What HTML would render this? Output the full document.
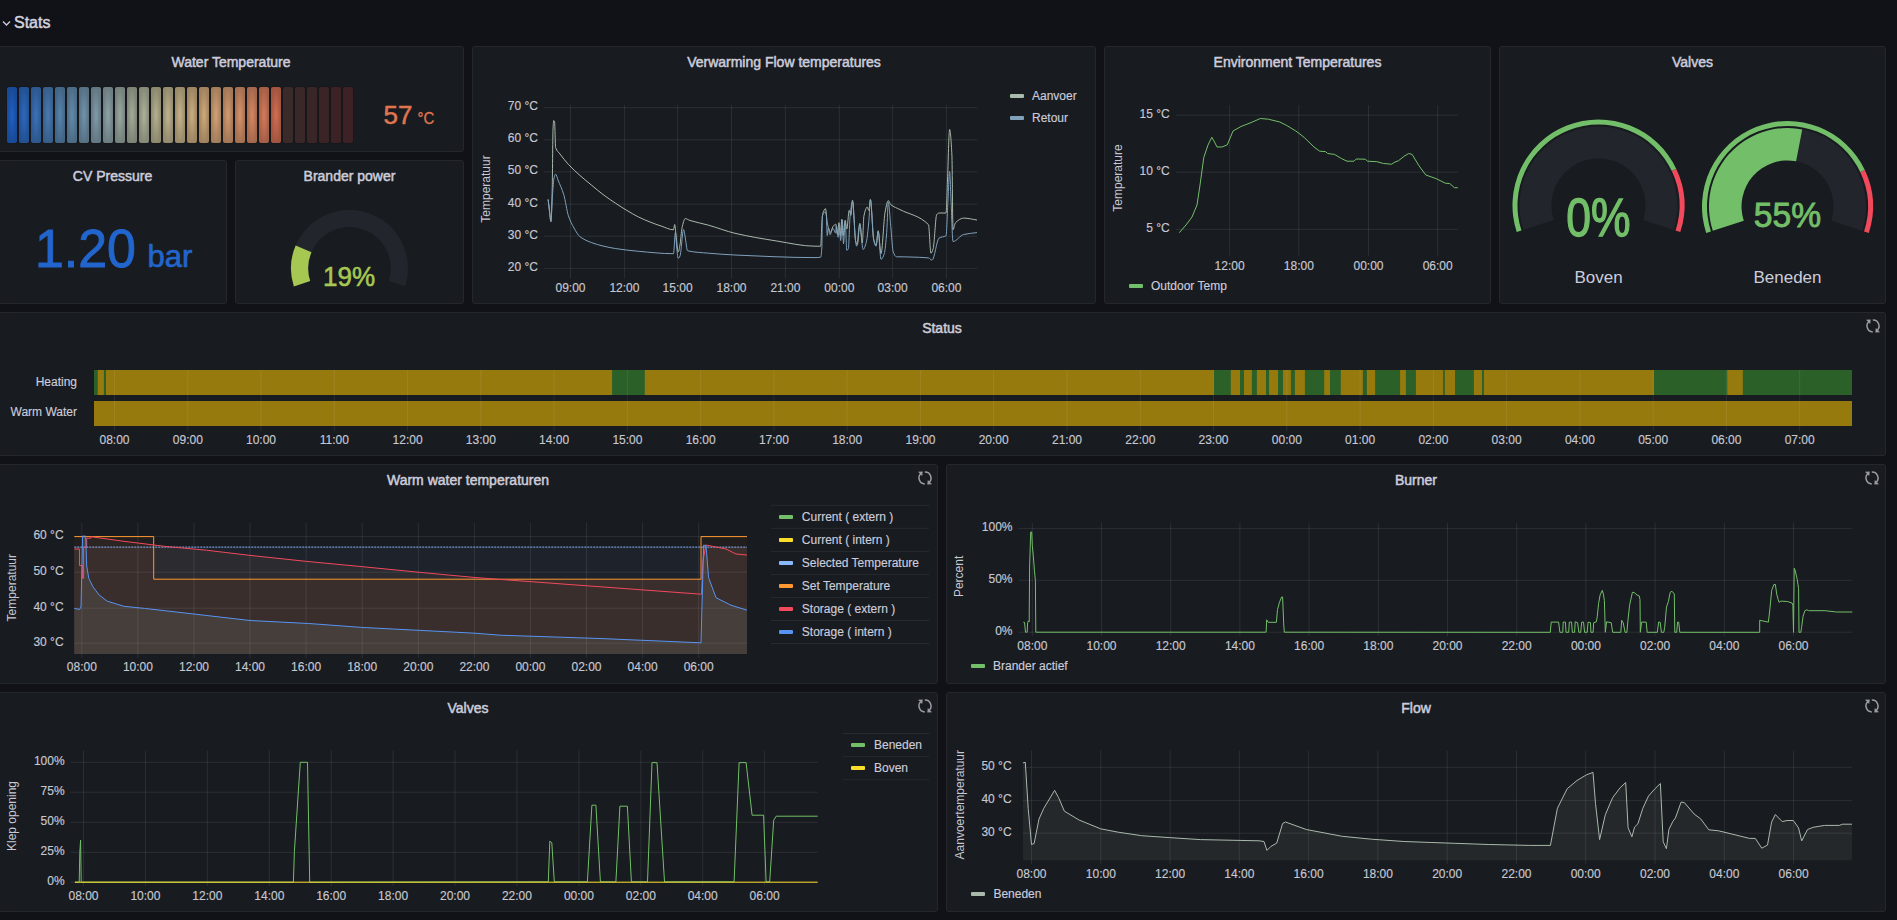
<!DOCTYPE html>
<html><head><meta charset="utf-8"><style>
html,body{margin:0;padding:0;}
body{width:1897px;height:920px;background:#111217;position:relative;overflow:hidden;font-family:"Liberation Sans", sans-serif;}
.p{position:absolute;box-sizing:border-box;background:#181b1f;border:1px solid #25272c;border-radius:3px;}
svg{position:absolute;left:0;top:0;}
svg text{font-family:"Liberation Sans", sans-serif;}
.t{stroke:#ccccdc;stroke-width:0.5px;}
.b{stroke-width:0.2px;}
</style></head><body>
<div class="p" style="left:-2px;top:46px;width:466px;height:106px"></div>
<div class="p" style="left:-2px;top:160px;width:229px;height:144px"></div>
<div class="p" style="left:235px;top:160px;width:229px;height:144px"></div>
<div class="p" style="left:472px;top:46px;width:624px;height:258px"></div>
<div class="p" style="left:1104px;top:46px;width:387px;height:258px"></div>
<div class="p" style="left:1499px;top:46px;width:387px;height:258px"></div>
<div class="p" style="left:-2px;top:312px;width:1888px;height:144px"></div>
<div class="p" style="left:-2px;top:464px;width:940px;height:220px"></div>
<div class="p" style="left:946px;top:464px;width:940px;height:220px"></div>
<div class="p" style="left:-2px;top:692px;width:940px;height:220px"></div>
<div class="p" style="left:946px;top:692px;width:940px;height:220px"></div>
<svg width="1897" height="920" viewBox="0 0 1897 920">
<path d="M3,21.5 L6.5,25 L10,21.5" stroke="#ccccdc" stroke-width="1.3" fill="none"/>
<text x="14" y="28" font-size="16" fill="#d8d9e0" class="t">Stats</text>
<text x="231.0" y="67.0" font-size="14" fill="#ccccdc" text-anchor="middle" class="t">Water Temperature</text>
<rect x="6.5" y="86.5" width="11" height="57" rx="2.5" fill="#15171b"/>
<rect x="7" y="87" width="10" height="56" rx="2" fill="url(#lg0)"/>
<rect x="18.5" y="86.5" width="11" height="57" rx="2.5" fill="#15171b"/>
<rect x="19" y="87" width="10" height="56" rx="2" fill="url(#lg1)"/>
<rect x="30.5" y="86.5" width="11" height="57" rx="2.5" fill="#15171b"/>
<rect x="31" y="87" width="10" height="56" rx="2" fill="url(#lg2)"/>
<rect x="42.5" y="86.5" width="11" height="57" rx="2.5" fill="#15171b"/>
<rect x="43" y="87" width="10" height="56" rx="2" fill="url(#lg3)"/>
<rect x="54.5" y="86.5" width="11" height="57" rx="2.5" fill="#15171b"/>
<rect x="55" y="87" width="10" height="56" rx="2" fill="url(#lg4)"/>
<rect x="66.5" y="86.5" width="11" height="57" rx="2.5" fill="#15171b"/>
<rect x="67" y="87" width="10" height="56" rx="2" fill="url(#lg5)"/>
<rect x="78.5" y="86.5" width="11" height="57" rx="2.5" fill="#15171b"/>
<rect x="79" y="87" width="10" height="56" rx="2" fill="url(#lg6)"/>
<rect x="90.5" y="86.5" width="11" height="57" rx="2.5" fill="#15171b"/>
<rect x="91" y="87" width="10" height="56" rx="2" fill="url(#lg7)"/>
<rect x="102.5" y="86.5" width="11" height="57" rx="2.5" fill="#15171b"/>
<rect x="103" y="87" width="10" height="56" rx="2" fill="url(#lg8)"/>
<rect x="114.5" y="86.5" width="11" height="57" rx="2.5" fill="#15171b"/>
<rect x="115" y="87" width="10" height="56" rx="2" fill="url(#lg9)"/>
<rect x="126.5" y="86.5" width="11" height="57" rx="2.5" fill="#15171b"/>
<rect x="127" y="87" width="10" height="56" rx="2" fill="url(#lg10)"/>
<rect x="138.5" y="86.5" width="11" height="57" rx="2.5" fill="#15171b"/>
<rect x="139" y="87" width="10" height="56" rx="2" fill="url(#lg11)"/>
<rect x="150.5" y="86.5" width="11" height="57" rx="2.5" fill="#15171b"/>
<rect x="151" y="87" width="10" height="56" rx="2" fill="url(#lg12)"/>
<rect x="162.5" y="86.5" width="11" height="57" rx="2.5" fill="#15171b"/>
<rect x="163" y="87" width="10" height="56" rx="2" fill="url(#lg13)"/>
<rect x="174.5" y="86.5" width="11" height="57" rx="2.5" fill="#15171b"/>
<rect x="175" y="87" width="10" height="56" rx="2" fill="url(#lg14)"/>
<rect x="186.5" y="86.5" width="11" height="57" rx="2.5" fill="#15171b"/>
<rect x="187" y="87" width="10" height="56" rx="2" fill="url(#lg15)"/>
<rect x="198.5" y="86.5" width="11" height="57" rx="2.5" fill="#15171b"/>
<rect x="199" y="87" width="10" height="56" rx="2" fill="url(#lg16)"/>
<rect x="210.5" y="86.5" width="11" height="57" rx="2.5" fill="#15171b"/>
<rect x="211" y="87" width="10" height="56" rx="2" fill="url(#lg17)"/>
<rect x="222.5" y="86.5" width="11" height="57" rx="2.5" fill="#15171b"/>
<rect x="223" y="87" width="10" height="56" rx="2" fill="url(#lg18)"/>
<rect x="234.5" y="86.5" width="11" height="57" rx="2.5" fill="#15171b"/>
<rect x="235" y="87" width="10" height="56" rx="2" fill="url(#lg19)"/>
<rect x="246.5" y="86.5" width="11" height="57" rx="2.5" fill="#15171b"/>
<rect x="247" y="87" width="10" height="56" rx="2" fill="url(#lg20)"/>
<rect x="258.5" y="86.5" width="11" height="57" rx="2.5" fill="#15171b"/>
<rect x="259" y="87" width="10" height="56" rx="2" fill="url(#lg21)"/>
<rect x="270.5" y="86.5" width="11" height="57" rx="2.5" fill="#15171b"/>
<rect x="271" y="87" width="10" height="56" rx="2" fill="url(#lg22)"/>
<rect x="282.5" y="86.5" width="11" height="57" rx="2.5" fill="#15171b"/>
<rect x="283" y="87" width="10" height="56" rx="2" fill="rgb(58, 42, 42)"/>
<rect x="294.5" y="86.5" width="11" height="57" rx="2.5" fill="#15171b"/>
<rect x="295" y="87" width="10" height="56" rx="2" fill="rgb(58, 40, 40)"/>
<rect x="306.5" y="86.5" width="11" height="57" rx="2.5" fill="#15171b"/>
<rect x="307" y="87" width="10" height="56" rx="2" fill="rgb(59, 38, 39)"/>
<rect x="318.5" y="86.5" width="11" height="57" rx="2.5" fill="#15171b"/>
<rect x="319" y="87" width="10" height="56" rx="2" fill="rgb(59, 36, 38)"/>
<rect x="330.5" y="86.5" width="11" height="57" rx="2.5" fill="#15171b"/>
<rect x="331" y="87" width="10" height="56" rx="2" fill="rgb(60, 34, 37)"/>
<rect x="342.5" y="86.5" width="11" height="57" rx="2.5" fill="#15171b"/>
<rect x="343" y="87" width="10" height="56" rx="2" fill="rgb(61, 33, 36)"/>
<defs><radialGradient id="lg0" cx="50%" cy="50%" r="50%" gradientTransform="translate(0.0,0) scale(1,1)"><stop offset="0" stop-color="rgb(31, 96, 196)"/><stop offset="1" stop-color="rgb(24, 74, 152)"/></radialGradient><radialGradient id="lg1" cx="50%" cy="50%" r="50%" gradientTransform="translate(0.0,0) scale(1,1)"><stop offset="0" stop-color="rgb(44, 105, 190)"/><stop offset="1" stop-color="rgb(34, 81, 148)"/></radialGradient><radialGradient id="lg2" cx="50%" cy="50%" r="50%" gradientTransform="translate(0.0,0) scale(1,1)"><stop offset="0" stop-color="rgb(58, 114, 185)"/><stop offset="1" stop-color="rgb(45, 88, 144)"/></radialGradient><radialGradient id="lg3" cx="50%" cy="50%" r="50%" gradientTransform="translate(0.0,0) scale(1,1)"><stop offset="0" stop-color="rgb(72, 123, 179)"/><stop offset="1" stop-color="rgb(56, 95, 139)"/></radialGradient><radialGradient id="lg4" cx="50%" cy="50%" r="50%" gradientTransform="translate(0.0,0) scale(1,1)"><stop offset="0" stop-color="rgb(86, 132, 174)"/><stop offset="1" stop-color="rgb(67, 102, 135)"/></radialGradient><radialGradient id="lg5" cx="50%" cy="50%" r="50%" gradientTransform="translate(0.0,0) scale(1,1)"><stop offset="0" stop-color="rgb(99, 139, 172)"/><stop offset="1" stop-color="rgb(77, 108, 134)"/></radialGradient><radialGradient id="lg6" cx="50%" cy="50%" r="50%" gradientTransform="translate(0.0,0) scale(1,1)"><stop offset="0" stop-color="rgb(113, 147, 171)"/><stop offset="1" stop-color="rgb(88, 114, 133)"/></radialGradient><radialGradient id="lg7" cx="50%" cy="50%" r="50%" gradientTransform="translate(0.0,0) scale(1,1)"><stop offset="0" stop-color="rgb(127, 155, 169)"/><stop offset="1" stop-color="rgb(99, 120, 131)"/></radialGradient><radialGradient id="lg8" cx="50%" cy="50%" r="50%" gradientTransform="translate(0.0,0) scale(1,1)"><stop offset="0" stop-color="rgb(141, 163, 168)"/><stop offset="1" stop-color="rgb(109, 127, 131)"/></radialGradient><radialGradient id="lg9" cx="50%" cy="50%" r="50%" gradientTransform="translate(0.0,0) scale(1,1)"><stop offset="0" stop-color="rgb(152, 168, 160)"/><stop offset="1" stop-color="rgb(118, 131, 124)"/></radialGradient><radialGradient id="lg10" cx="50%" cy="50%" r="50%" gradientTransform="translate(0.0,0) scale(1,1)"><stop offset="0" stop-color="rgb(163, 171, 152)"/><stop offset="1" stop-color="rgb(127, 133, 118)"/></radialGradient><radialGradient id="lg11" cx="50%" cy="50%" r="50%" gradientTransform="translate(0.0,0) scale(1,1)"><stop offset="0" stop-color="rgb(173, 178, 154)"/><stop offset="1" stop-color="rgb(134, 138, 120)"/></radialGradient><radialGradient id="lg12" cx="50%" cy="50%" r="50%" gradientTransform="translate(0.0,0) scale(1,1)"><stop offset="0" stop-color="rgb(181, 176, 143)"/><stop offset="1" stop-color="rgb(141, 137, 111)"/></radialGradient><radialGradient id="lg13" cx="50%" cy="50%" r="50%" gradientTransform="translate(0.0,0) scale(1,1)"><stop offset="0" stop-color="rgb(192, 180, 143)"/><stop offset="1" stop-color="rgb(149, 140, 111)"/></radialGradient><radialGradient id="lg14" cx="50%" cy="50%" r="50%" gradientTransform="translate(0.0,0) scale(1,1)"><stop offset="0" stop-color="rgb(198, 179, 138)"/><stop offset="1" stop-color="rgb(154, 139, 107)"/></radialGradient><radialGradient id="lg15" cx="50%" cy="50%" r="50%" gradientTransform="translate(0.0,0) scale(1,1)"><stop offset="0" stop-color="rgb(203, 173, 128)"/><stop offset="1" stop-color="rgb(158, 134, 99)"/></radialGradient><radialGradient id="lg16" cx="50%" cy="50%" r="50%" gradientTransform="translate(0.0,0) scale(1,1)"><stop offset="0" stop-color="rgb(207, 169, 123)"/><stop offset="1" stop-color="rgb(161, 131, 95)"/></radialGradient><radialGradient id="lg17" cx="50%" cy="50%" r="50%" gradientTransform="translate(0.0,0) scale(1,1)"><stop offset="0" stop-color="rgb(211, 162, 118)"/><stop offset="1" stop-color="rgb(164, 126, 92)"/></radialGradient><radialGradient id="lg18" cx="50%" cy="50%" r="50%" gradientTransform="translate(0.0,0) scale(1,1)"><stop offset="0" stop-color="rgb(212, 154, 112)"/><stop offset="1" stop-color="rgb(165, 120, 87)"/></radialGradient><radialGradient id="lg19" cx="50%" cy="50%" r="50%" gradientTransform="translate(0.0,0) scale(1,1)"><stop offset="0" stop-color="rgb(214, 146, 106)"/><stop offset="1" stop-color="rgb(166, 113, 82)"/></radialGradient><radialGradient id="lg20" cx="50%" cy="50%" r="50%" gradientTransform="translate(0.0,0) scale(1,1)"><stop offset="0" stop-color="rgb(214, 135, 99)"/><stop offset="1" stop-color="rgb(166, 105, 77)"/></radialGradient><radialGradient id="lg21" cx="50%" cy="50%" r="50%" gradientTransform="translate(0.0,0) scale(1,1)"><stop offset="0" stop-color="rgb(213, 123, 92)"/><stop offset="1" stop-color="rgb(166, 95, 71)"/></radialGradient><radialGradient id="lg22" cx="50%" cy="50%" r="50%" gradientTransform="translate(0.0,0) scale(1,1)"><stop offset="0" stop-color="rgb(210, 110, 82)"/><stop offset="1" stop-color="rgb(163, 85, 63)"/></radialGradient></defs>
<text x="383.5" y="124" font-size="26" fill="#e0764f" stroke="#e0764f" stroke-width="0.5">57</text>
<text x="417.5" y="124" font-size="16.5" fill="#e0764f" stroke="#e0764f" stroke-width="0.3" transform="translate(417.5 124) scale(0.9 1) translate(-417.5 -124)">°C</text>
<text x="112.5" y="181.0" font-size="14" fill="#ccccdc" text-anchor="middle" class="t">CV Pressure</text>
<text x="35" y="267" font-size="54" fill="#2265cc" stroke="#2265cc" stroke-width="1.0" transform="translate(35 267) scale(0.96 1) translate(-35 -267)">1.20</text>
<text x="147.5" y="267" font-size="31" fill="#2265cc" stroke="#2265cc" stroke-width="0.7">bar</text>
<text x="349.5" y="181.0" font-size="14" fill="#ccccdc" text-anchor="middle" class="t">Brander power</text>
<path d="M293.86,286.38 A58.5,58.5 0 1 1 405.14,286.38 L388.78,281.06 A41.3,41.3 0 1 0 310.22,281.06 Z" fill="#22252b"/>
<path d="M293.86,286.38 A58.5,58.5 0 0 1 295.67,245.40 L311.49,252.14 A41.3,41.3 0 0 0 310.22,281.06 Z" fill="#a6c853"/>
<text x="349" y="285.7" font-size="28" fill="#a6c853" stroke="#a6c853" stroke-width="0.6" text-anchor="middle" transform="translate(349 285.7) scale(0.93 1) translate(-349 -285.7)">19%</text>
<text x="784.0" y="67.0" font-size="14" fill="#ccccdc" text-anchor="middle" class="t">Verwarming Flow temperatures</text>
<line x1="544.0" y1="107.7" x2="977.0" y2="107.7" stroke="rgba(220,225,240,0.10)" stroke-width="1"/>
<text x="538.0" y="110.2" font-size="12" fill="#c7c8d2" stroke="#c7c8d2" stroke-width="0.15" text-anchor="end" font-weight="normal" >70 °C</text>
<line x1="544.0" y1="139.8" x2="977.0" y2="139.8" stroke="rgba(220,225,240,0.10)" stroke-width="1"/>
<text x="538.0" y="142.3" font-size="12" fill="#c7c8d2" stroke="#c7c8d2" stroke-width="0.15" text-anchor="end" font-weight="normal" >60 °C</text>
<line x1="544.0" y1="171.9" x2="977.0" y2="171.9" stroke="rgba(220,225,240,0.10)" stroke-width="1"/>
<text x="538.0" y="174.4" font-size="12" fill="#c7c8d2" stroke="#c7c8d2" stroke-width="0.15" text-anchor="end" font-weight="normal" >50 °C</text>
<line x1="544.0" y1="204.1" x2="977.0" y2="204.1" stroke="rgba(220,225,240,0.10)" stroke-width="1"/>
<text x="538.0" y="206.6" font-size="12" fill="#c7c8d2" stroke="#c7c8d2" stroke-width="0.15" text-anchor="end" font-weight="normal" >40 °C</text>
<line x1="544.0" y1="236.2" x2="977.0" y2="236.2" stroke="rgba(220,225,240,0.10)" stroke-width="1"/>
<text x="538.0" y="238.7" font-size="12" fill="#c7c8d2" stroke="#c7c8d2" stroke-width="0.15" text-anchor="end" font-weight="normal" >30 °C</text>
<line x1="544.0" y1="268.4" x2="977.0" y2="268.4" stroke="rgba(220,225,240,0.10)" stroke-width="1"/>
<text x="538.0" y="270.9" font-size="12" fill="#c7c8d2" stroke="#c7c8d2" stroke-width="0.15" text-anchor="end" font-weight="normal" >20 °C</text>
<line x1="570.5" y1="105.0" x2="570.5" y2="278.5" stroke="rgba(220,225,240,0.10)" stroke-width="1"/>
<text x="570.5" y="291.7" font-size="12" fill="#c7c8d2" stroke="#c7c8d2" stroke-width="0.15" text-anchor="middle" font-weight="normal" >09:00</text>
<line x1="624.4" y1="105.0" x2="624.4" y2="278.5" stroke="rgba(220,225,240,0.10)" stroke-width="1"/>
<text x="624.4" y="291.7" font-size="12" fill="#c7c8d2" stroke="#c7c8d2" stroke-width="0.15" text-anchor="middle" font-weight="normal" >12:00</text>
<line x1="677.6" y1="105.0" x2="677.6" y2="278.5" stroke="rgba(220,225,240,0.10)" stroke-width="1"/>
<text x="677.6" y="291.7" font-size="12" fill="#c7c8d2" stroke="#c7c8d2" stroke-width="0.15" text-anchor="middle" font-weight="normal" >15:00</text>
<line x1="731.5" y1="105.0" x2="731.5" y2="278.5" stroke="rgba(220,225,240,0.10)" stroke-width="1"/>
<text x="731.5" y="291.7" font-size="12" fill="#c7c8d2" stroke="#c7c8d2" stroke-width="0.15" text-anchor="middle" font-weight="normal" >18:00</text>
<line x1="785.4" y1="105.0" x2="785.4" y2="278.5" stroke="rgba(220,225,240,0.10)" stroke-width="1"/>
<text x="785.4" y="291.7" font-size="12" fill="#c7c8d2" stroke="#c7c8d2" stroke-width="0.15" text-anchor="middle" font-weight="normal" >21:00</text>
<line x1="839.3" y1="105.0" x2="839.3" y2="278.5" stroke="rgba(220,225,240,0.10)" stroke-width="1"/>
<text x="839.3" y="291.7" font-size="12" fill="#c7c8d2" stroke="#c7c8d2" stroke-width="0.15" text-anchor="middle" font-weight="normal" >00:00</text>
<line x1="892.6" y1="105.0" x2="892.6" y2="278.5" stroke="rgba(220,225,240,0.10)" stroke-width="1"/>
<text x="892.6" y="291.7" font-size="12" fill="#c7c8d2" stroke="#c7c8d2" stroke-width="0.15" text-anchor="middle" font-weight="normal" >03:00</text>
<line x1="946.4" y1="105.0" x2="946.4" y2="278.5" stroke="rgba(220,225,240,0.10)" stroke-width="1"/>
<text x="946.4" y="291.7" font-size="12" fill="#c7c8d2" stroke="#c7c8d2" stroke-width="0.15" text-anchor="middle" font-weight="normal" >06:00</text>
<text x="486.0" y="189.0" font-size="12" fill="#c7c8d2" text-anchor="middle" transform="rotate(-90 486.0 189.0)" dy="4">Temperatuur</text>
<path d="M548.10,199.50 C548.57,203.00 549.03,206.33 549.50,210.00 C549.97,213.67 550.43,221.60 550.90,221.60 C551.33,221.60 551.77,205.91 552.20,190.00 C552.47,180.21 552.73,136.13 553.00,130.00 C553.23,124.64 553.47,120.50 553.70,120.50 C554.00,120.50 554.30,121.06 554.60,122.00 C554.93,123.04 555.27,146.68 555.60,147.60 C557.07,151.64 558.53,152.04 560.00,154.00 C562.80,157.75 565.60,161.38 568.40,164.40 C572.27,168.57 576.13,172.04 580.00,175.50 C583.93,179.02 587.87,182.15 591.80,185.40 C595.53,188.48 599.27,191.70 603.00,194.50 C607.07,197.55 611.13,200.30 615.20,203.00 C619.13,205.61 623.07,208.15 627.00,210.50 C630.83,212.79 634.67,215.12 638.50,217.00 C642.33,218.88 646.17,220.49 650.00,222.00 C653.97,223.57 657.93,225.00 661.90,226.30 C665.77,227.57 669.63,229.80 673.50,229.80 C673.90,229.80 674.30,224.50 674.70,224.50 C675.13,224.50 675.57,231.58 676.00,235.00 C676.73,240.79 677.47,252.00 678.20,252.00 C678.80,252.00 679.40,248.20 680.00,245.00 C680.67,241.44 681.33,230.91 682.00,228.00 C683.07,223.34 684.13,218.60 685.20,218.60 C686.80,218.60 688.40,220.01 690.00,220.50 C696.20,222.41 702.40,223.48 708.60,225.20 C717.40,227.64 726.20,231.27 735.00,233.30 C748.90,236.50 762.80,238.82 776.70,241.00 C789.47,243.00 802.23,246.20 815.00,246.20 C816.90,246.20 818.80,246.20 820.70,246.20 C821.10,246.20 821.50,228.33 821.90,222.60 C822.17,218.78 822.43,214.38 822.70,213.60 C823.67,210.76 824.63,208.70 825.60,208.70 C826.13,208.70 826.67,219.64 827.20,222.60 C827.60,224.82 828.00,226.31 828.40,227.50 C829.10,229.58 829.80,232.40 830.50,232.40 C831.30,232.40 832.10,227.71 832.90,226.70 C833.87,225.48 834.83,224.20 835.80,224.20 C836.33,224.20 836.87,234.00 837.40,234.00 C837.93,234.00 838.47,222.60 839.00,222.60 C839.43,222.60 839.87,235.60 840.30,235.60 C840.83,235.60 841.37,219.30 841.90,219.30 C842.30,219.30 842.70,235.60 843.10,235.60 C843.80,235.60 844.50,220.20 845.20,220.20 C845.73,220.20 846.27,229.10 846.80,229.10 C847.60,229.10 848.40,210.40 849.20,210.40 C849.77,210.40 850.33,215.30 850.90,215.30 C851.43,215.30 851.97,200.20 852.50,200.20 C853.57,200.20 854.63,237.70 855.70,241.30 C856.27,243.21 856.83,244.60 857.40,244.60 C858.20,244.60 859.00,223.40 859.80,223.40 C860.63,223.40 861.47,243.00 862.30,243.00 C862.83,243.00 863.37,218.60 863.90,216.10 C865.00,210.94 866.10,207.10 867.20,207.10 C867.73,207.10 868.27,210.40 868.80,210.40 C869.33,210.40 869.87,199.40 870.40,199.40 C871.50,199.40 872.60,234.04 873.70,238.90 C874.50,242.43 875.30,245.40 876.10,245.40 C876.80,245.40 877.50,230.70 878.20,230.70 C879.13,230.70 880.07,253.60 881.00,253.60 C882.37,253.60 883.73,219.21 885.10,212.00 C886.17,206.38 887.23,200.60 888.30,200.60 C889.13,200.60 889.97,204.03 890.80,204.70 C893.87,207.17 896.93,207.97 900.00,209.60 C909.50,214.65 919.00,215.06 928.50,224.70 C929.30,225.51 930.10,253.20 930.90,253.20 C931.67,253.20 932.43,251.09 933.20,248.50 C934.37,244.56 935.53,216.06 936.70,214.60 C937.50,213.60 938.30,213.00 939.10,213.00 C941.40,213.00 943.70,213.00 946.00,213.00 C946.50,213.00 947.00,191.50 947.50,180.00 C948.20,163.90 948.90,129.40 949.60,129.40 C950.37,129.40 951.13,140.39 951.90,155.10 C952.27,162.14 952.63,229.80 953.00,229.80 C953.80,229.80 954.60,223.57 955.40,222.80 C958.13,220.18 960.87,218.10 963.60,218.10 C968.07,218.10 972.53,219.37 977.00,220.00" stroke="#a9b9ab" stroke-width="1" fill="none" stroke-linejoin="round" />
<path d="M548.10,199.50 C548.57,203.67 549.03,208.38 549.50,212.00 C549.97,215.62 550.43,221.60 550.90,221.60 C551.43,221.60 551.97,202.19 552.50,195.00 C553.00,188.26 553.50,179.96 554.00,178.00 C554.53,175.91 555.07,174.20 555.60,174.20 C556.40,174.20 557.20,178.01 558.00,180.00 C559.93,184.80 561.87,188.47 563.80,194.80 C565.33,199.82 566.87,211.28 568.40,215.80 C570.27,221.31 572.13,224.76 574.00,228.00 C576.03,231.53 578.07,235.28 580.10,236.80 C584.00,239.71 587.90,241.25 591.80,242.70 C595.53,244.09 599.27,245.10 603.00,246.00 C607.07,246.98 611.13,247.88 615.20,248.50 C622.97,249.68 630.73,250.62 638.50,251.30 C650.17,252.32 661.83,253.70 673.50,253.70 C674.13,253.70 674.77,232.20 675.40,232.20 C675.77,232.20 676.13,241.57 676.50,245.00 C677.07,250.30 677.63,258.30 678.20,258.30 C678.80,258.30 679.40,257.31 680.00,256.00 C681.20,253.39 682.40,229.40 683.60,229.40 C684.07,229.40 684.53,233.59 685.00,236.00 C685.87,240.47 686.73,250.61 687.60,250.80 C694.60,252.37 701.60,252.60 708.60,253.20 C717.40,253.95 726.20,254.61 735.00,255.00 C761.67,256.17 788.33,257.60 815.00,257.60 C816.90,257.60 818.80,257.46 820.70,257.20 C821.10,257.14 821.50,253.11 821.90,247.00 C822.03,244.96 822.17,217.67 822.30,216.90 C822.57,215.36 822.83,215.00 823.10,214.50 C823.80,213.18 824.50,211.60 825.20,211.60 C825.60,211.60 826.00,213.50 826.40,216.10 C826.67,217.83 826.93,235.60 827.20,235.60 C827.60,235.60 828.00,228.30 828.40,228.30 C828.97,228.30 829.53,234.80 830.10,234.80 C831.03,234.80 831.97,228.30 832.90,228.30 C833.87,228.30 834.83,233.20 835.80,233.20 C835.93,233.20 836.07,225.90 836.20,225.90 C836.87,225.90 837.53,237.30 838.20,237.30 C838.60,237.30 839.00,224.20 839.40,224.20 C839.83,224.20 840.27,240.50 840.70,240.50 C841.23,240.50 841.77,220.20 842.30,220.20 C842.70,220.20 843.10,243.80 843.50,243.80 C844.07,243.80 844.63,221.00 845.20,221.00 C845.73,221.00 846.27,250.30 846.80,250.30 C847.33,250.30 847.87,249.71 848.40,248.70 C848.93,247.69 849.47,222.90 850.00,217.70 C850.83,209.57 851.67,201.40 852.50,201.40 C853.57,201.40 854.63,235.17 855.70,242.20 C856.00,244.18 856.30,246.20 856.60,246.20 C857.67,246.20 858.73,224.20 859.80,224.20 C860.90,224.20 862.00,249.50 863.10,249.50 C864.17,249.50 865.23,246.00 866.30,242.20 C867.13,239.23 867.97,230.33 868.80,221.80 C869.33,216.34 869.87,199.80 870.40,199.80 C871.50,199.80 872.60,236.12 873.70,240.50 C874.50,243.69 875.30,246.20 876.10,246.20 C876.80,246.20 877.50,231.60 878.20,231.60 C879.13,231.60 880.07,259.30 881.00,259.30 C882.10,259.30 883.20,256.78 884.30,253.60 C885.10,251.29 885.90,242.03 886.70,232.40 C887.23,225.98 887.77,202.20 888.30,202.20 C889.13,202.20 889.97,218.25 890.80,226.70 C891.60,234.81 892.40,249.82 893.20,251.90 C894.30,254.76 895.40,256.80 896.50,256.80 C897.67,256.80 898.83,256.80 900.00,256.80 C903.33,256.80 906.67,256.91 910.00,257.00 C916.17,257.17 922.33,257.34 928.50,257.90 C929.67,258.01 930.83,260.20 932.00,260.20 C934.37,260.20 936.73,239.43 939.10,238.00 C941.40,236.61 943.70,237.21 946.00,235.70 C946.67,235.26 947.33,211.91 948.00,200.00 C948.53,190.47 949.07,171.40 949.60,171.40 C950.07,171.40 950.53,190.39 951.00,200.00 C951.67,213.73 952.33,241.50 953.00,241.50 C956.53,241.50 960.07,235.32 963.60,234.50 C968.07,233.46 972.53,233.23 977.00,232.60" stroke="#7fa1bc" stroke-width="1" fill="none" stroke-linejoin="round" />
<rect x="1010" y="94" width="14" height="4" rx="1" fill="#a9b9ab"/>
<rect x="1010" y="116" width="14" height="4" rx="1" fill="#7fa1bc"/>
<text x="1032.0" y="100.0" font-size="12" fill="#ccccdc" stroke="#ccccdc" stroke-width="0.15" text-anchor="start" font-weight="normal" >Aanvoer</text>
<text x="1032.0" y="122.0" font-size="12" fill="#ccccdc" stroke="#ccccdc" stroke-width="0.15" text-anchor="start" font-weight="normal" >Retour</text>
<text x="1297.5" y="67.0" font-size="14" fill="#ccccdc" text-anchor="middle" class="t">Environment Temperatures</text>
<line x1="1176.0" y1="115.1" x2="1458.0" y2="115.1" stroke="rgba(220,225,240,0.10)" stroke-width="1"/>
<text x="1169.7" y="117.9" font-size="12" fill="#c7c8d2" stroke="#c7c8d2" stroke-width="0.15" text-anchor="end" font-weight="normal" >15 °C</text>
<line x1="1176.0" y1="172.2" x2="1458.0" y2="172.2" stroke="rgba(220,225,240,0.10)" stroke-width="1"/>
<text x="1169.7" y="175.0" font-size="12" fill="#c7c8d2" stroke="#c7c8d2" stroke-width="0.15" text-anchor="end" font-weight="normal" >10 °C</text>
<line x1="1176.0" y1="229.3" x2="1458.0" y2="229.3" stroke="rgba(220,225,240,0.10)" stroke-width="1"/>
<text x="1169.7" y="232.1" font-size="12" fill="#c7c8d2" stroke="#c7c8d2" stroke-width="0.15" text-anchor="end" font-weight="normal" >5 °C</text>
<line x1="1229.6" y1="105.0" x2="1229.6" y2="255.5" stroke="rgba(220,225,240,0.10)" stroke-width="1"/>
<text x="1229.6" y="270.0" font-size="12" fill="#c7c8d2" stroke="#c7c8d2" stroke-width="0.15" text-anchor="middle" font-weight="normal" >12:00</text>
<line x1="1298.8" y1="105.0" x2="1298.8" y2="255.5" stroke="rgba(220,225,240,0.10)" stroke-width="1"/>
<text x="1298.8" y="270.0" font-size="12" fill="#c7c8d2" stroke="#c7c8d2" stroke-width="0.15" text-anchor="middle" font-weight="normal" >18:00</text>
<line x1="1368.5" y1="105.0" x2="1368.5" y2="255.5" stroke="rgba(220,225,240,0.10)" stroke-width="1"/>
<text x="1368.5" y="270.0" font-size="12" fill="#c7c8d2" stroke="#c7c8d2" stroke-width="0.15" text-anchor="middle" font-weight="normal" >00:00</text>
<line x1="1437.7" y1="105.0" x2="1437.7" y2="255.5" stroke="rgba(220,225,240,0.10)" stroke-width="1"/>
<text x="1437.7" y="270.0" font-size="12" fill="#c7c8d2" stroke="#c7c8d2" stroke-width="0.15" text-anchor="middle" font-weight="normal" >06:00</text>
<text x="1117.5" y="178.0" font-size="12" fill="#c7c8d2" text-anchor="middle" transform="rotate(-90 1117.5 178.0)" dy="4">Temperature</text>
<path d="M1179.3,232.7 L1186.0,225.0 L1192.0,217.0 L1197.0,205.0 L1200.0,185.0 L1203.8,157.4 L1208.0,145.0 L1211.8,137.3 L1214.0,141.0 L1217.0,147.0 L1222.0,147.0 L1227.3,144.8 L1233.0,131.0 L1241.0,126.5 L1250.0,123.0 L1260.4,118.5 L1268.4,119.2 L1279.8,122.0 L1286.6,125.4 L1295.8,131.0 L1299.1,133.4 L1304.8,138.0 L1314.0,147.0 L1319.7,151.2 L1325.4,151.6 L1327.7,153.5 L1334.5,154.4 L1341.4,158.5 L1347.0,161.2 L1354.0,161.2 L1356.2,159.0 L1365.3,159.2 L1367.6,161.2 L1376.8,161.7 L1383.6,163.5 L1391.6,164.2 L1395.0,162.0 L1398.4,160.8 L1404.2,156.2 L1408.7,153.5 L1412.1,154.4 L1419.0,165.8 L1425.8,175.0 L1436.1,178.6 L1445.3,183.2 L1449.8,183.6 L1454.4,187.7 L1457.8,187.7" stroke="#73bf69" stroke-width="1" fill="none" stroke-linejoin="round" />
<rect x="1129" y="284" width="14" height="4" rx="1" fill="#73bf69"/>
<text x="1151.0" y="290.0" font-size="12" fill="#ccccdc" stroke="#ccccdc" stroke-width="0.15" text-anchor="start" font-weight="normal" >Outdoor Temp</text>
<text x="1692.5" y="67.0" font-size="14" fill="#ccccdc" text-anchor="middle" class="t">Valves</text>
<path d="M1516.71,232.08 A86,86 0 0 1 1676.32,168.88 L1671.79,171.01 A81,81 0 0 0 1521.46,230.53 Z" fill="#73bf69"/>
<path d="M1676.32,168.88 A86,86 0 0 1 1680.29,232.08 L1675.54,230.53 A81,81 0 0 0 1671.79,171.01 Z" fill="#f2495c"/>
<path d="M1523.37,229.91 A79,79 0 1 1 1673.63,229.91 L1643.20,220.02 A47,47 0 1 0 1553.80,220.02 Z" fill="#22252b"/>
<text x="1598.5" y="236" font-size="53" fill="#73bf69" stroke="#73bf69" stroke-width="1.32" text-anchor="middle" transform="translate(1598.5 236) scale(0.84 1) translate(-1598.5 -236)">0%</text>
<text x="1598.5" y="282.6" font-size="17" fill="#ccccdc" text-anchor="middle">Boven</text>
<path d="M1706.18,232.92 A85.5,85.5 0 0 1 1864.86,170.10 L1860.34,172.22 A80.5,80.5 0 0 0 1710.94,231.38 Z" fill="#73bf69"/>
<path d="M1864.86,170.10 A85.5,85.5 0 0 1 1868.82,232.92 L1864.06,231.38 A80.5,80.5 0 0 0 1860.34,172.22 Z" fill="#f2495c"/>
<path d="M1712.84,230.76 A78.5,78.5 0 1 1 1862.16,230.76 L1831.25,220.71 A46,46 0 1 0 1743.75,220.71 Z" fill="#22252b"/>
<path d="M1712.84,230.76 A78.5,78.5 0 0 1 1802.21,129.39 L1796.12,161.31 A46,46 0 0 0 1743.75,220.71 Z" fill="#73bf69"/>
<text x="1787.5" y="227" font-size="35" fill="#73bf69" stroke="#73bf69" stroke-width="0.88" text-anchor="middle" transform="translate(1787.5 227) scale(0.96 1) translate(-1787.5 -227)">55%</text>
<text x="1787.5" y="282.6" font-size="17" fill="#ccccdc" text-anchor="middle">Beneden</text>
<text x="942.0" y="333.0" font-size="14" fill="#ccccdc" text-anchor="middle" class="t">Status</text>
<path d="M1869.31,321.27 A6.0,6.0 0 0 0 1872.79,332.00" stroke="#9a9ba5" stroke-width="1.5" fill="none"/>
<path d="M1872.79,320.00 A6.0,6.0 0 0 1 1876.69,330.73" stroke="#9a9ba5" stroke-width="1.5" fill="none"/>
<path d="M1866.00,319.70 L1870.70,319.40 L1870.20,324.00 Z" fill="#9a9ba5"/>
<path d="M1880.00,332.30 L1875.30,332.60 L1875.80,328.00 Z" fill="#9a9ba5"/>
<rect x="94" y="370" width="1758" height="25" fill="#977a0e"/>
<rect x="94" y="401" width="1758" height="25" fill="#977a0e"/>
<rect x="94.0" y="370" width="3.8" height="25" fill="#2c6029"/>
<rect x="103.9" y="370" width="2.1" height="25" fill="#2c6029"/>
<rect x="612.1" y="370" width="32.7" height="25" fill="#2c6029"/>
<rect x="1213.9" y="370" width="16.9" height="25" fill="#2c6029"/>
<rect x="1240.0" y="370" width="4.0" height="25" fill="#2c6029"/>
<rect x="1251.9" y="370" width="5.0" height="25" fill="#2c6029"/>
<rect x="1266.0" y="370" width="3.1" height="25" fill="#2c6029"/>
<rect x="1278.0" y="370" width="5.0" height="25" fill="#2c6029"/>
<rect x="1290.9" y="370" width="4.0" height="25" fill="#2c6029"/>
<rect x="1304.9" y="370" width="19.3" height="25" fill="#2c6029"/>
<rect x="1330.0" y="370" width="10.8" height="25" fill="#2c6029"/>
<rect x="1362.9" y="370" width="4.0" height="25" fill="#2c6029"/>
<rect x="1375.1" y="370" width="25.0" height="25" fill="#2c6029"/>
<rect x="1405.9" y="370" width="10.0" height="25" fill="#2c6029"/>
<rect x="1443.1" y="370" width="1.7" height="25" fill="#2c6029"/>
<rect x="1455.0" y="370" width="18.9" height="25" fill="#2c6029"/>
<rect x="1482.0" y="370" width="1.9" height="25" fill="#2c6029"/>
<rect x="1654.0" y="370" width="73.3" height="25" fill="#2c6029"/>
<rect x="1742.8" y="370" width="109.2" height="25" fill="#2c6029"/>
<text x="77.0" y="386.0" font-size="12" fill="#ccccdc" stroke="#ccccdc" stroke-width="0.15" text-anchor="end" font-weight="normal" >Heating</text>
<text x="77.0" y="416.0" font-size="12" fill="#ccccdc" stroke="#ccccdc" stroke-width="0.15" text-anchor="end" font-weight="normal" >Warm Water</text>
<line x1="114.5" y1="370.0" x2="114.5" y2="431.0" stroke="rgba(220,225,240,0.09)" stroke-width="1"/>
<text x="114.5" y="443.7" font-size="12" fill="#c7c8d2" stroke="#c7c8d2" stroke-width="0.15" text-anchor="middle" font-weight="normal" >08:00</text>
<line x1="187.8" y1="370.0" x2="187.8" y2="431.0" stroke="rgba(220,225,240,0.09)" stroke-width="1"/>
<text x="187.8" y="443.7" font-size="12" fill="#c7c8d2" stroke="#c7c8d2" stroke-width="0.15" text-anchor="middle" font-weight="normal" >09:00</text>
<line x1="261.0" y1="370.0" x2="261.0" y2="431.0" stroke="rgba(220,225,240,0.09)" stroke-width="1"/>
<text x="261.0" y="443.7" font-size="12" fill="#c7c8d2" stroke="#c7c8d2" stroke-width="0.15" text-anchor="middle" font-weight="normal" >10:00</text>
<line x1="334.3" y1="370.0" x2="334.3" y2="431.0" stroke="rgba(220,225,240,0.09)" stroke-width="1"/>
<text x="334.3" y="443.7" font-size="12" fill="#c7c8d2" stroke="#c7c8d2" stroke-width="0.15" text-anchor="middle" font-weight="normal" >11:00</text>
<line x1="407.6" y1="370.0" x2="407.6" y2="431.0" stroke="rgba(220,225,240,0.09)" stroke-width="1"/>
<text x="407.6" y="443.7" font-size="12" fill="#c7c8d2" stroke="#c7c8d2" stroke-width="0.15" text-anchor="middle" font-weight="normal" >12:00</text>
<line x1="480.8" y1="370.0" x2="480.8" y2="431.0" stroke="rgba(220,225,240,0.09)" stroke-width="1"/>
<text x="480.8" y="443.7" font-size="12" fill="#c7c8d2" stroke="#c7c8d2" stroke-width="0.15" text-anchor="middle" font-weight="normal" >13:00</text>
<line x1="554.1" y1="370.0" x2="554.1" y2="431.0" stroke="rgba(220,225,240,0.09)" stroke-width="1"/>
<text x="554.1" y="443.7" font-size="12" fill="#c7c8d2" stroke="#c7c8d2" stroke-width="0.15" text-anchor="middle" font-weight="normal" >14:00</text>
<line x1="627.4" y1="370.0" x2="627.4" y2="431.0" stroke="rgba(220,225,240,0.09)" stroke-width="1"/>
<text x="627.4" y="443.7" font-size="12" fill="#c7c8d2" stroke="#c7c8d2" stroke-width="0.15" text-anchor="middle" font-weight="normal" >15:00</text>
<line x1="700.7" y1="370.0" x2="700.7" y2="431.0" stroke="rgba(220,225,240,0.09)" stroke-width="1"/>
<text x="700.7" y="443.7" font-size="12" fill="#c7c8d2" stroke="#c7c8d2" stroke-width="0.15" text-anchor="middle" font-weight="normal" >16:00</text>
<line x1="773.9" y1="370.0" x2="773.9" y2="431.0" stroke="rgba(220,225,240,0.09)" stroke-width="1"/>
<text x="773.9" y="443.7" font-size="12" fill="#c7c8d2" stroke="#c7c8d2" stroke-width="0.15" text-anchor="middle" font-weight="normal" >17:00</text>
<line x1="847.2" y1="370.0" x2="847.2" y2="431.0" stroke="rgba(220,225,240,0.09)" stroke-width="1"/>
<text x="847.2" y="443.7" font-size="12" fill="#c7c8d2" stroke="#c7c8d2" stroke-width="0.15" text-anchor="middle" font-weight="normal" >18:00</text>
<line x1="920.5" y1="370.0" x2="920.5" y2="431.0" stroke="rgba(220,225,240,0.09)" stroke-width="1"/>
<text x="920.5" y="443.7" font-size="12" fill="#c7c8d2" stroke="#c7c8d2" stroke-width="0.15" text-anchor="middle" font-weight="normal" >19:00</text>
<line x1="993.7" y1="370.0" x2="993.7" y2="431.0" stroke="rgba(220,225,240,0.09)" stroke-width="1"/>
<text x="993.7" y="443.7" font-size="12" fill="#c7c8d2" stroke="#c7c8d2" stroke-width="0.15" text-anchor="middle" font-weight="normal" >20:00</text>
<line x1="1067.0" y1="370.0" x2="1067.0" y2="431.0" stroke="rgba(220,225,240,0.09)" stroke-width="1"/>
<text x="1067.0" y="443.7" font-size="12" fill="#c7c8d2" stroke="#c7c8d2" stroke-width="0.15" text-anchor="middle" font-weight="normal" >21:00</text>
<line x1="1140.3" y1="370.0" x2="1140.3" y2="431.0" stroke="rgba(220,225,240,0.09)" stroke-width="1"/>
<text x="1140.3" y="443.7" font-size="12" fill="#c7c8d2" stroke="#c7c8d2" stroke-width="0.15" text-anchor="middle" font-weight="normal" >22:00</text>
<line x1="1213.5" y1="370.0" x2="1213.5" y2="431.0" stroke="rgba(220,225,240,0.09)" stroke-width="1"/>
<text x="1213.5" y="443.7" font-size="12" fill="#c7c8d2" stroke="#c7c8d2" stroke-width="0.15" text-anchor="middle" font-weight="normal" >23:00</text>
<line x1="1286.8" y1="370.0" x2="1286.8" y2="431.0" stroke="rgba(220,225,240,0.09)" stroke-width="1"/>
<text x="1286.8" y="443.7" font-size="12" fill="#c7c8d2" stroke="#c7c8d2" stroke-width="0.15" text-anchor="middle" font-weight="normal" >00:00</text>
<line x1="1360.1" y1="370.0" x2="1360.1" y2="431.0" stroke="rgba(220,225,240,0.09)" stroke-width="1"/>
<text x="1360.1" y="443.7" font-size="12" fill="#c7c8d2" stroke="#c7c8d2" stroke-width="0.15" text-anchor="middle" font-weight="normal" >01:00</text>
<line x1="1433.4" y1="370.0" x2="1433.4" y2="431.0" stroke="rgba(220,225,240,0.09)" stroke-width="1"/>
<text x="1433.4" y="443.7" font-size="12" fill="#c7c8d2" stroke="#c7c8d2" stroke-width="0.15" text-anchor="middle" font-weight="normal" >02:00</text>
<line x1="1506.6" y1="370.0" x2="1506.6" y2="431.0" stroke="rgba(220,225,240,0.09)" stroke-width="1"/>
<text x="1506.6" y="443.7" font-size="12" fill="#c7c8d2" stroke="#c7c8d2" stroke-width="0.15" text-anchor="middle" font-weight="normal" >03:00</text>
<line x1="1579.9" y1="370.0" x2="1579.9" y2="431.0" stroke="rgba(220,225,240,0.09)" stroke-width="1"/>
<text x="1579.9" y="443.7" font-size="12" fill="#c7c8d2" stroke="#c7c8d2" stroke-width="0.15" text-anchor="middle" font-weight="normal" >04:00</text>
<line x1="1653.2" y1="370.0" x2="1653.2" y2="431.0" stroke="rgba(220,225,240,0.09)" stroke-width="1"/>
<text x="1653.2" y="443.7" font-size="12" fill="#c7c8d2" stroke="#c7c8d2" stroke-width="0.15" text-anchor="middle" font-weight="normal" >05:00</text>
<line x1="1726.4" y1="370.0" x2="1726.4" y2="431.0" stroke="rgba(220,225,240,0.09)" stroke-width="1"/>
<text x="1726.4" y="443.7" font-size="12" fill="#c7c8d2" stroke="#c7c8d2" stroke-width="0.15" text-anchor="middle" font-weight="normal" >06:00</text>
<line x1="1799.7" y1="370.0" x2="1799.7" y2="431.0" stroke="rgba(220,225,240,0.09)" stroke-width="1"/>
<text x="1799.7" y="443.7" font-size="12" fill="#c7c8d2" stroke="#c7c8d2" stroke-width="0.15" text-anchor="middle" font-weight="normal" >07:00</text>
<text x="468.0" y="485.0" font-size="14" fill="#ccccdc" text-anchor="middle" class="t">Warm water temperaturen</text>
<path d="M921.31,473.27 A6.0,6.0 0 0 0 924.79,484.00" stroke="#9a9ba5" stroke-width="1.5" fill="none"/>
<path d="M924.79,472.00 A6.0,6.0 0 0 1 928.69,482.73" stroke="#9a9ba5" stroke-width="1.5" fill="none"/>
<path d="M918.00,471.70 L922.70,471.40 L922.20,476.00 Z" fill="#9a9ba5"/>
<path d="M932.00,484.30 L927.30,484.60 L927.80,480.00 Z" fill="#9a9ba5"/>
<defs><clipPath id="cOr"><path d="M74.3,654.0 L74.3,536.6 L153.7,536.6 L153.7,579.2 L701.0,579.2 L701.0,536.6 L747.0,536.6 L747.0,654.0 Z"/></clipPath><clipPath id="cUp"><rect x="0" y="0" width="1000" height="547.1"/></clipPath><clipPath id="cLo"><rect x="0" y="547.1" width="1000" height="200"/></clipPath></defs>
<path d="M74.3,654.0 L74.3,547.1 L747.0,547.1 L747.0,654.0 Z" fill="#1d222b"/>
<g clip-path="url(#cUp)"><path d="M74.3,654.0 L74.3,536.6 L153.7,536.6 L153.7,579.2 L701.0,579.2 L701.0,536.6 L747.0,536.6 L747.0,654.0 Z" fill="#221e1d"/><g clip-path="url(#cOr)"><path d="M74.3,654.0 L74.3,549.1 L79.5,549.1 L79.5,565.6 L82.6,565.6 L82.6,578.4 L83.6,578.4 L83.6,547.5 L86.7,547.5 L86.7,538.2 L90.8,538.2 L90.8,536.7 L123.9,541.3 L165.2,546.4 L206.4,550.2 L250.0,555.4 L305.8,561.3 L362.5,566.7 L418.2,572.2 L475.0,577.5 L500.0,579.4 L701.0,594.2 L701.5,594.2 L703.0,560.0 L706.0,545.0 L711.0,546.0 L726.0,549.0 L736.0,554.0 L747.0,555.0 L747.0,654.0 Z" fill="#2c2420"/></g></g>
<g clip-path="url(#cLo)"><path d="M74.3,654.0 L74.3,549.1 L79.5,549.1 L79.5,565.6 L82.6,565.6 L82.6,578.4 L83.6,578.4 L83.6,547.5 L86.7,547.5 L86.7,538.2 L90.8,538.2 L90.8,536.7 L123.9,541.3 L165.2,546.4 L206.4,550.2 L250.0,555.4 L305.8,561.3 L362.5,566.7 L418.2,572.2 L475.0,577.5 L500.0,579.4 L701.0,594.2 L701.5,594.2 L703.0,560.0 L706.0,545.0 L711.0,546.0 L726.0,549.0 L736.0,554.0 L747.0,555.0 L747.0,654.0 Z" fill="#2c2b30"/><path d="M74.3,654.0 L74.3,536.6 L153.7,536.6 L153.7,579.2 L701.0,579.2 L701.0,536.6 L747.0,536.6 L747.0,654.0 Z" fill="#3a2e2d"/></g>
<path d="M74.3,654.0 L74.3,608.4 L79.5,609.4 L81.0,607.0 L82.6,536.1 L85.7,536.1 L86.7,566.0 L88.8,578.4 L92.9,586.7 L99.1,595.0 L107.3,601.2 L123.9,606.3 L144.5,608.4 L185.8,613.1 L250.0,620.5 L308.7,623.5 L361.5,627.4 L418.2,630.3 L475.0,633.2 L500.0,635.2 L600.0,638.5 L701.0,642.8 L703.6,545.1 L706.0,545.5 L708.6,577.7 L716.0,597.7 L731.0,605.2 L747.0,610.2 L747.0,654.0 Z" fill="#453e3a"/>
<line x1="74.3" y1="536.4" x2="747.0" y2="536.4" stroke="rgba(220,225,240,0.10)" stroke-width="1"/>
<text x="63.6" y="538.9" font-size="12" fill="#c7c8d2" stroke="#c7c8d2" stroke-width="0.15" text-anchor="end" font-weight="normal" >60 °C</text>
<line x1="74.3" y1="572.2" x2="747.0" y2="572.2" stroke="rgba(220,225,240,0.10)" stroke-width="1"/>
<text x="63.6" y="574.7" font-size="12" fill="#c7c8d2" stroke="#c7c8d2" stroke-width="0.15" text-anchor="end" font-weight="normal" >50 °C</text>
<line x1="74.3" y1="608.2" x2="747.0" y2="608.2" stroke="rgba(220,225,240,0.10)" stroke-width="1"/>
<text x="63.6" y="610.7" font-size="12" fill="#c7c8d2" stroke="#c7c8d2" stroke-width="0.15" text-anchor="end" font-weight="normal" >40 °C</text>
<line x1="74.3" y1="643.2" x2="747.0" y2="643.2" stroke="rgba(220,225,240,0.10)" stroke-width="1"/>
<text x="63.6" y="645.7" font-size="12" fill="#c7c8d2" stroke="#c7c8d2" stroke-width="0.15" text-anchor="end" font-weight="normal" >30 °C</text>
<line x1="81.8" y1="522.7" x2="81.8" y2="658.0" stroke="rgba(220,225,240,0.10)" stroke-width="1"/>
<text x="81.8" y="671.3" font-size="12" fill="#c7c8d2" stroke="#c7c8d2" stroke-width="0.15" text-anchor="middle" font-weight="normal" >08:00</text>
<line x1="137.9" y1="522.7" x2="137.9" y2="658.0" stroke="rgba(220,225,240,0.10)" stroke-width="1"/>
<text x="137.9" y="671.3" font-size="12" fill="#c7c8d2" stroke="#c7c8d2" stroke-width="0.15" text-anchor="middle" font-weight="normal" >10:00</text>
<line x1="194.0" y1="522.7" x2="194.0" y2="658.0" stroke="rgba(220,225,240,0.10)" stroke-width="1"/>
<text x="194.0" y="671.3" font-size="12" fill="#c7c8d2" stroke="#c7c8d2" stroke-width="0.15" text-anchor="middle" font-weight="normal" >12:00</text>
<line x1="250.0" y1="522.7" x2="250.0" y2="658.0" stroke="rgba(220,225,240,0.10)" stroke-width="1"/>
<text x="250.0" y="671.3" font-size="12" fill="#c7c8d2" stroke="#c7c8d2" stroke-width="0.15" text-anchor="middle" font-weight="normal" >14:00</text>
<line x1="306.1" y1="522.7" x2="306.1" y2="658.0" stroke="rgba(220,225,240,0.10)" stroke-width="1"/>
<text x="306.1" y="671.3" font-size="12" fill="#c7c8d2" stroke="#c7c8d2" stroke-width="0.15" text-anchor="middle" font-weight="normal" >16:00</text>
<line x1="362.2" y1="522.7" x2="362.2" y2="658.0" stroke="rgba(220,225,240,0.10)" stroke-width="1"/>
<text x="362.2" y="671.3" font-size="12" fill="#c7c8d2" stroke="#c7c8d2" stroke-width="0.15" text-anchor="middle" font-weight="normal" >18:00</text>
<line x1="418.3" y1="522.7" x2="418.3" y2="658.0" stroke="rgba(220,225,240,0.10)" stroke-width="1"/>
<text x="418.3" y="671.3" font-size="12" fill="#c7c8d2" stroke="#c7c8d2" stroke-width="0.15" text-anchor="middle" font-weight="normal" >20:00</text>
<line x1="474.4" y1="522.7" x2="474.4" y2="658.0" stroke="rgba(220,225,240,0.10)" stroke-width="1"/>
<text x="474.4" y="671.3" font-size="12" fill="#c7c8d2" stroke="#c7c8d2" stroke-width="0.15" text-anchor="middle" font-weight="normal" >22:00</text>
<line x1="530.4" y1="522.7" x2="530.4" y2="658.0" stroke="rgba(220,225,240,0.10)" stroke-width="1"/>
<text x="530.4" y="671.3" font-size="12" fill="#c7c8d2" stroke="#c7c8d2" stroke-width="0.15" text-anchor="middle" font-weight="normal" >00:00</text>
<line x1="586.5" y1="522.7" x2="586.5" y2="658.0" stroke="rgba(220,225,240,0.10)" stroke-width="1"/>
<text x="586.5" y="671.3" font-size="12" fill="#c7c8d2" stroke="#c7c8d2" stroke-width="0.15" text-anchor="middle" font-weight="normal" >02:00</text>
<line x1="642.6" y1="522.7" x2="642.6" y2="658.0" stroke="rgba(220,225,240,0.10)" stroke-width="1"/>
<text x="642.6" y="671.3" font-size="12" fill="#c7c8d2" stroke="#c7c8d2" stroke-width="0.15" text-anchor="middle" font-weight="normal" >04:00</text>
<line x1="698.7" y1="522.7" x2="698.7" y2="658.0" stroke="rgba(220,225,240,0.10)" stroke-width="1"/>
<text x="698.7" y="671.3" font-size="12" fill="#c7c8d2" stroke="#c7c8d2" stroke-width="0.15" text-anchor="middle" font-weight="normal" >06:00</text>
<text x="12.0" y="587.7" font-size="12" fill="#c7c8d2" text-anchor="middle" transform="rotate(-90 12.0 587.7)" dy="4">Temperatuur</text>
<path d="M74.3,547.1 L747.0,547.1" stroke="#8ab8ff" stroke-width="1" fill="none" stroke-linejoin="round" stroke-dasharray="2,1"/>
<path d="M74.3,536.6 L153.7,536.6 L153.7,579.2 L701.0,579.2 L701.0,536.6 L747.0,536.6" stroke="#ff9830" stroke-width="1" fill="none" stroke-linejoin="round" />
<path d="M74.3,549.1 L79.5,549.1 L79.5,565.6 L82.6,565.6 L82.6,578.4 L83.6,578.4 L83.6,547.5 L86.7,547.5 L86.7,538.2 L90.8,538.2 L90.8,536.7 L123.9,541.3 L165.2,546.4 L206.4,550.2 L250.0,555.4 L305.8,561.3 L362.5,566.7 L418.2,572.2 L475.0,577.5 L500.0,579.4 L701.0,594.2 L701.5,594.2 L703.0,560.0 L706.0,545.0 L711.0,546.0 L726.0,549.0 L736.0,554.0 L747.0,555.0" stroke="#f2495c" stroke-width="1" fill="none" stroke-linejoin="round" />
<path d="M74.3,608.4 L79.5,609.4 L81.0,607.0 L82.6,536.1 L85.7,536.1 L86.7,566.0 L88.8,578.4 L92.9,586.7 L99.1,595.0 L107.3,601.2 L123.9,606.3 L144.5,608.4 L185.8,613.1 L250.0,620.5 L308.7,623.5 L361.5,627.4 L418.2,630.3 L475.0,633.2 L500.0,635.2 L600.0,638.5 L701.0,642.8 L703.6,545.1 L706.0,545.5 L708.6,577.7 L716.0,597.7 L731.0,605.2 L747.0,610.2" stroke="#5794f2" stroke-width="1" fill="none" stroke-linejoin="round" />
<line x1="771.0" y1="505.3" x2="929.0" y2="505.3" stroke="rgba(220,225,240,0.08)" stroke-width="1"/>
<line x1="771.0" y1="528.3" x2="929.0" y2="528.3" stroke="rgba(220,225,240,0.08)" stroke-width="1"/>
<line x1="771.0" y1="551.4" x2="929.0" y2="551.4" stroke="rgba(220,225,240,0.08)" stroke-width="1"/>
<line x1="771.0" y1="574.4" x2="929.0" y2="574.4" stroke="rgba(220,225,240,0.08)" stroke-width="1"/>
<line x1="771.0" y1="597.4" x2="929.0" y2="597.4" stroke="rgba(220,225,240,0.08)" stroke-width="1"/>
<line x1="771.0" y1="620.5" x2="929.0" y2="620.5" stroke="rgba(220,225,240,0.08)" stroke-width="1"/>
<line x1="771.0" y1="643.5" x2="929.0" y2="643.5" stroke="rgba(220,225,240,0.08)" stroke-width="1"/>
<rect x="779" y="515.0" width="14" height="4" rx="1" fill="#73bf69"/>
<text x="801.8" y="521.2" font-size="12" fill="#ccccdc" stroke="#ccccdc" stroke-width="0.15" text-anchor="start" font-weight="normal" >Current ( extern )</text>
<rect x="779" y="538.0" width="14" height="4" rx="1" fill="#fade2a"/>
<text x="801.8" y="544.2" font-size="12" fill="#ccccdc" stroke="#ccccdc" stroke-width="0.15" text-anchor="start" font-weight="normal" >Current ( intern )</text>
<rect x="779" y="561.1" width="14" height="4" rx="1" fill="#8ab8ff"/>
<text x="801.8" y="567.3" font-size="12" fill="#ccccdc" stroke="#ccccdc" stroke-width="0.15" text-anchor="start" font-weight="normal" >Selected Temperature</text>
<rect x="779" y="584.1" width="14" height="4" rx="1" fill="#ff9830"/>
<text x="801.8" y="590.3" font-size="12" fill="#ccccdc" stroke="#ccccdc" stroke-width="0.15" text-anchor="start" font-weight="normal" >Set Temperature</text>
<rect x="779" y="607.1" width="14" height="4" rx="1" fill="#f2495c"/>
<text x="801.8" y="613.3" font-size="12" fill="#ccccdc" stroke="#ccccdc" stroke-width="0.15" text-anchor="start" font-weight="normal" >Storage ( extern )</text>
<rect x="779" y="630.1" width="14" height="4" rx="1" fill="#5794f2"/>
<text x="801.8" y="636.4" font-size="12" fill="#ccccdc" stroke="#ccccdc" stroke-width="0.15" text-anchor="start" font-weight="normal" >Storage ( intern )</text>
<text x="1416.0" y="485.0" font-size="14" fill="#ccccdc" text-anchor="middle" class="t">Burner</text>
<path d="M1868.31,473.27 A6.0,6.0 0 0 0 1871.79,484.00" stroke="#9a9ba5" stroke-width="1.5" fill="none"/>
<path d="M1871.79,472.00 A6.0,6.0 0 0 1 1875.69,482.73" stroke="#9a9ba5" stroke-width="1.5" fill="none"/>
<path d="M1865.00,471.70 L1869.70,471.40 L1869.20,476.00 Z" fill="#9a9ba5"/>
<path d="M1879.00,484.30 L1874.30,484.60 L1874.80,480.00 Z" fill="#9a9ba5"/>
<line x1="1018.3" y1="528.4" x2="1852.3" y2="528.4" stroke="rgba(220,225,240,0.10)" stroke-width="1"/>
<text x="1012.5" y="531.1" font-size="12" fill="#c7c8d2" stroke="#c7c8d2" stroke-width="0.15" text-anchor="end" font-weight="normal" >100%</text>
<line x1="1018.3" y1="580.3" x2="1852.3" y2="580.3" stroke="rgba(220,225,240,0.10)" stroke-width="1"/>
<text x="1012.5" y="583.0" font-size="12" fill="#c7c8d2" stroke="#c7c8d2" stroke-width="0.15" text-anchor="end" font-weight="normal" >50%</text>
<line x1="1018.3" y1="632.2" x2="1852.3" y2="632.2" stroke="rgba(220,225,240,0.10)" stroke-width="1"/>
<text x="1012.5" y="634.9" font-size="12" fill="#c7c8d2" stroke="#c7c8d2" stroke-width="0.15" text-anchor="end" font-weight="normal" >0%</text>
<line x1="1032.3" y1="522.7" x2="1032.3" y2="636.0" stroke="rgba(220,225,240,0.10)" stroke-width="1"/>
<text x="1032.3" y="649.7" font-size="12" fill="#c7c8d2" stroke="#c7c8d2" stroke-width="0.15" text-anchor="middle" font-weight="normal" >08:00</text>
<line x1="1101.5" y1="522.7" x2="1101.5" y2="636.0" stroke="rgba(220,225,240,0.10)" stroke-width="1"/>
<text x="1101.5" y="649.7" font-size="12" fill="#c7c8d2" stroke="#c7c8d2" stroke-width="0.15" text-anchor="middle" font-weight="normal" >10:00</text>
<line x1="1170.7" y1="522.7" x2="1170.7" y2="636.0" stroke="rgba(220,225,240,0.10)" stroke-width="1"/>
<text x="1170.7" y="649.7" font-size="12" fill="#c7c8d2" stroke="#c7c8d2" stroke-width="0.15" text-anchor="middle" font-weight="normal" >12:00</text>
<line x1="1239.9" y1="522.7" x2="1239.9" y2="636.0" stroke="rgba(220,225,240,0.10)" stroke-width="1"/>
<text x="1239.9" y="649.7" font-size="12" fill="#c7c8d2" stroke="#c7c8d2" stroke-width="0.15" text-anchor="middle" font-weight="normal" >14:00</text>
<line x1="1309.1" y1="522.7" x2="1309.1" y2="636.0" stroke="rgba(220,225,240,0.10)" stroke-width="1"/>
<text x="1309.1" y="649.7" font-size="12" fill="#c7c8d2" stroke="#c7c8d2" stroke-width="0.15" text-anchor="middle" font-weight="normal" >16:00</text>
<line x1="1378.3" y1="522.7" x2="1378.3" y2="636.0" stroke="rgba(220,225,240,0.10)" stroke-width="1"/>
<text x="1378.3" y="649.7" font-size="12" fill="#c7c8d2" stroke="#c7c8d2" stroke-width="0.15" text-anchor="middle" font-weight="normal" >18:00</text>
<line x1="1447.5" y1="522.7" x2="1447.5" y2="636.0" stroke="rgba(220,225,240,0.10)" stroke-width="1"/>
<text x="1447.5" y="649.7" font-size="12" fill="#c7c8d2" stroke="#c7c8d2" stroke-width="0.15" text-anchor="middle" font-weight="normal" >20:00</text>
<line x1="1516.7" y1="522.7" x2="1516.7" y2="636.0" stroke="rgba(220,225,240,0.10)" stroke-width="1"/>
<text x="1516.7" y="649.7" font-size="12" fill="#c7c8d2" stroke="#c7c8d2" stroke-width="0.15" text-anchor="middle" font-weight="normal" >22:00</text>
<line x1="1585.9" y1="522.7" x2="1585.9" y2="636.0" stroke="rgba(220,225,240,0.10)" stroke-width="1"/>
<text x="1585.9" y="649.7" font-size="12" fill="#c7c8d2" stroke="#c7c8d2" stroke-width="0.15" text-anchor="middle" font-weight="normal" >00:00</text>
<line x1="1655.1" y1="522.7" x2="1655.1" y2="636.0" stroke="rgba(220,225,240,0.10)" stroke-width="1"/>
<text x="1655.1" y="649.7" font-size="12" fill="#c7c8d2" stroke="#c7c8d2" stroke-width="0.15" text-anchor="middle" font-weight="normal" >02:00</text>
<line x1="1724.3" y1="522.7" x2="1724.3" y2="636.0" stroke="rgba(220,225,240,0.10)" stroke-width="1"/>
<text x="1724.3" y="649.7" font-size="12" fill="#c7c8d2" stroke="#c7c8d2" stroke-width="0.15" text-anchor="middle" font-weight="normal" >04:00</text>
<line x1="1793.5" y1="522.7" x2="1793.5" y2="636.0" stroke="rgba(220,225,240,0.10)" stroke-width="1"/>
<text x="1793.5" y="649.7" font-size="12" fill="#c7c8d2" stroke="#c7c8d2" stroke-width="0.15" text-anchor="middle" font-weight="normal" >06:00</text>
<text x="959.4" y="576.4" font-size="12" fill="#c7c8d2" text-anchor="middle" transform="rotate(-90 959.4 576.4)" dy="4">Percent</text>
<path d="M1023.4,622.3 L1024.5,622.3 L1025.5,632.2 L1027.2,632.2 L1027.6,622.9 L1028.6,620.8 L1029.2,621.8 L1029.6,567.1 L1030.7,532.0 L1031.7,532.0 L1032.3,545.4 L1033.4,556.8 L1034.4,570.2 L1035.4,580.5 L1035.8,632.2 L1266.1,632.2 L1266.7,619.8 L1268.2,622.3 L1276.4,622.3 L1277.5,609.5 L1279.5,602.2 L1281.6,597.0 L1282.6,597.0 L1283.7,623.9 L1284.3,632.2 L1530.0,632.3 L1550.3,632.3 L1551.2,622.1 L1558.6,622.1 L1559.9,632.3 L1562.8,632.3 L1563.2,622.1 L1565.4,622.1 L1566.0,632.3 L1568.7,632.3 L1569.3,622.1 L1571.5,622.1 L1572.4,632.3 L1574.6,632.3 L1575.2,621.8 L1577.6,622.7 L1578.9,632.3 L1580.7,632.3 L1581.7,622.1 L1583.5,622.1 L1584.6,632.3 L1587.2,632.3 L1588.1,622.1 L1590.5,622.7 L1590.9,632.3 L1593.1,632.3 L1593.7,622.7 L1596.4,621.8 L1597.3,616.2 L1598.6,603.3 L1600.1,595.0 L1602.3,590.4 L1603.4,594.1 L1604.4,600.6 L1605.3,632.3 L1606.6,621.8 L1611.2,622.7 L1612.7,632.3 L1620.8,632.3 L1621.7,620.3 L1623.2,622.7 L1624.5,629.2 L1625.0,632.3 L1626.9,632.3 L1627.8,621.8 L1629.6,605.2 L1632.4,592.3 L1634.2,592.6 L1637.0,595.0 L1639.2,595.9 L1640.0,599.6 L1640.3,632.3 L1641.6,622.1 L1646.2,622.1 L1647.2,632.3 L1657.3,632.3 L1658.6,622.1 L1660.1,622.1 L1661.4,632.3 L1663.8,632.3 L1664.7,627.3 L1666.5,607.0 L1668.4,601.5 L1670.2,592.3 L1672.1,591.3 L1674.3,594.1 L1674.8,632.3 L1676.7,632.3 L1677.6,622.1 L1678.7,622.1 L1679.8,632.3 L1759.7,632.3 L1759.7,620.3 L1768.4,622.1 L1769.9,608.9 L1771.7,590.4 L1773.9,584.5 L1775.4,584.5 L1776.7,594.1 L1778.2,599.6 L1779.1,602.4 L1780.9,601.1 L1787.4,601.5 L1792.0,603.0 L1792.9,605.2 L1793.5,632.3 L1794.2,568.3 L1795.1,570.1 L1797.2,579.3 L1798.6,588.6 L1799.0,632.3 L1800.8,632.3 L1801.6,627.3 L1803.1,616.2 L1804.9,610.7 L1806.8,609.8 L1808.6,610.7 L1825.2,610.7 L1836.3,612.0 L1852.3,612.0" stroke="#73bf69" stroke-width="1" fill="none" stroke-linejoin="round" />
<rect x="971" y="664" width="14" height="4" rx="1" fill="#73bf69"/>
<text x="993.0" y="669.8" font-size="12" fill="#ccccdc" stroke="#ccccdc" stroke-width="0.15" text-anchor="start" font-weight="normal" >Brander actief</text>
<text x="468.0" y="713.0" font-size="14" fill="#ccccdc" text-anchor="middle" class="t">Valves</text>
<path d="M921.31,701.27 A6.0,6.0 0 0 0 924.79,712.00" stroke="#9a9ba5" stroke-width="1.5" fill="none"/>
<path d="M924.79,700.00 A6.0,6.0 0 0 1 928.69,710.73" stroke="#9a9ba5" stroke-width="1.5" fill="none"/>
<path d="M918.00,699.70 L922.70,699.40 L922.20,704.00 Z" fill="#9a9ba5"/>
<path d="M932.00,712.30 L927.30,712.60 L927.80,708.00 Z" fill="#9a9ba5"/>
<line x1="70.4" y1="762.3" x2="817.7" y2="762.3" stroke="rgba(220,225,240,0.10)" stroke-width="1"/>
<text x="64.6" y="765.0" font-size="12" fill="#c7c8d2" stroke="#c7c8d2" stroke-width="0.15" text-anchor="end" font-weight="normal" >100%</text>
<line x1="70.4" y1="792.2" x2="817.7" y2="792.2" stroke="rgba(220,225,240,0.10)" stroke-width="1"/>
<text x="64.6" y="794.9" font-size="12" fill="#c7c8d2" stroke="#c7c8d2" stroke-width="0.15" text-anchor="end" font-weight="normal" >75%</text>
<line x1="70.4" y1="822.3" x2="817.7" y2="822.3" stroke="rgba(220,225,240,0.10)" stroke-width="1"/>
<text x="64.6" y="825.0" font-size="12" fill="#c7c8d2" stroke="#c7c8d2" stroke-width="0.15" text-anchor="end" font-weight="normal" >50%</text>
<line x1="70.4" y1="852.3" x2="817.7" y2="852.3" stroke="rgba(220,225,240,0.10)" stroke-width="1"/>
<text x="64.6" y="855.0" font-size="12" fill="#c7c8d2" stroke="#c7c8d2" stroke-width="0.15" text-anchor="end" font-weight="normal" >25%</text>
<line x1="70.4" y1="882.2" x2="817.7" y2="882.2" stroke="rgba(220,225,240,0.10)" stroke-width="1"/>
<text x="64.6" y="884.9" font-size="12" fill="#c7c8d2" stroke="#c7c8d2" stroke-width="0.15" text-anchor="end" font-weight="normal" >0%</text>
<line x1="83.5" y1="750.5" x2="83.5" y2="886.0" stroke="rgba(220,225,240,0.10)" stroke-width="1"/>
<text x="83.5" y="899.8" font-size="12" fill="#c7c8d2" stroke="#c7c8d2" stroke-width="0.15" text-anchor="middle" font-weight="normal" >08:00</text>
<line x1="145.4" y1="750.5" x2="145.4" y2="886.0" stroke="rgba(220,225,240,0.10)" stroke-width="1"/>
<text x="145.4" y="899.8" font-size="12" fill="#c7c8d2" stroke="#c7c8d2" stroke-width="0.15" text-anchor="middle" font-weight="normal" >10:00</text>
<line x1="207.3" y1="750.5" x2="207.3" y2="886.0" stroke="rgba(220,225,240,0.10)" stroke-width="1"/>
<text x="207.3" y="899.8" font-size="12" fill="#c7c8d2" stroke="#c7c8d2" stroke-width="0.15" text-anchor="middle" font-weight="normal" >12:00</text>
<line x1="269.3" y1="750.5" x2="269.3" y2="886.0" stroke="rgba(220,225,240,0.10)" stroke-width="1"/>
<text x="269.3" y="899.8" font-size="12" fill="#c7c8d2" stroke="#c7c8d2" stroke-width="0.15" text-anchor="middle" font-weight="normal" >14:00</text>
<line x1="331.2" y1="750.5" x2="331.2" y2="886.0" stroke="rgba(220,225,240,0.10)" stroke-width="1"/>
<text x="331.2" y="899.8" font-size="12" fill="#c7c8d2" stroke="#c7c8d2" stroke-width="0.15" text-anchor="middle" font-weight="normal" >16:00</text>
<line x1="393.1" y1="750.5" x2="393.1" y2="886.0" stroke="rgba(220,225,240,0.10)" stroke-width="1"/>
<text x="393.1" y="899.8" font-size="12" fill="#c7c8d2" stroke="#c7c8d2" stroke-width="0.15" text-anchor="middle" font-weight="normal" >18:00</text>
<line x1="455.0" y1="750.5" x2="455.0" y2="886.0" stroke="rgba(220,225,240,0.10)" stroke-width="1"/>
<text x="455.0" y="899.8" font-size="12" fill="#c7c8d2" stroke="#c7c8d2" stroke-width="0.15" text-anchor="middle" font-weight="normal" >20:00</text>
<line x1="516.9" y1="750.5" x2="516.9" y2="886.0" stroke="rgba(220,225,240,0.10)" stroke-width="1"/>
<text x="516.9" y="899.8" font-size="12" fill="#c7c8d2" stroke="#c7c8d2" stroke-width="0.15" text-anchor="middle" font-weight="normal" >22:00</text>
<line x1="578.9" y1="750.5" x2="578.9" y2="886.0" stroke="rgba(220,225,240,0.10)" stroke-width="1"/>
<text x="578.9" y="899.8" font-size="12" fill="#c7c8d2" stroke="#c7c8d2" stroke-width="0.15" text-anchor="middle" font-weight="normal" >00:00</text>
<line x1="640.8" y1="750.5" x2="640.8" y2="886.0" stroke="rgba(220,225,240,0.10)" stroke-width="1"/>
<text x="640.8" y="899.8" font-size="12" fill="#c7c8d2" stroke="#c7c8d2" stroke-width="0.15" text-anchor="middle" font-weight="normal" >02:00</text>
<line x1="702.7" y1="750.5" x2="702.7" y2="886.0" stroke="rgba(220,225,240,0.10)" stroke-width="1"/>
<text x="702.7" y="899.8" font-size="12" fill="#c7c8d2" stroke="#c7c8d2" stroke-width="0.15" text-anchor="middle" font-weight="normal" >04:00</text>
<line x1="764.6" y1="750.5" x2="764.6" y2="886.0" stroke="rgba(220,225,240,0.10)" stroke-width="1"/>
<text x="764.6" y="899.8" font-size="12" fill="#c7c8d2" stroke="#c7c8d2" stroke-width="0.15" text-anchor="middle" font-weight="normal" >06:00</text>
<text x="12.1" y="816.0" font-size="12" fill="#c7c8d2" text-anchor="middle" transform="rotate(-90 12.1 816.0)" dy="4">Klep opening</text>
<path d="M74.9,882.2 L79.2,882.2 L79.8,852.3 L80.6,840.0 L81.2,882.2 L293.4,882.2 L294.4,851.3 L299.3,777.0 L300.3,762.3 L307.5,762.3 L309.7,882.2 L548.3,881.8 L549.8,841.2 L551.8,842.7 L554.3,881.8 L587.4,881.8 L591.9,805.2 L595.9,805.2 L600.4,881.8 L615.9,881.8 L619.9,806.2 L627.4,806.2 L631.4,881.8 L647.5,881.8 L652.0,762.6 L657.0,762.6 L664.5,881.8 L734.1,881.8 L739.1,762.6 L746.1,762.6 L752.1,815.2 L763.6,815.2 L766.1,881.8 L769.7,881.8 L773.7,820.2 L776.2,816.2 L817.7,816.2" stroke="#73bf69" stroke-width="1" fill="none" stroke-linejoin="round" />
<path d="M74.9,882.2 L817.7,882.2" stroke="#fade2a" stroke-width="1" fill="none" stroke-linejoin="round" />
<line x1="843.0" y1="733.5" x2="929.0" y2="733.5" stroke="rgba(220,225,240,0.08)" stroke-width="1"/>
<line x1="843.0" y1="756.6" x2="929.0" y2="756.6" stroke="rgba(220,225,240,0.08)" stroke-width="1"/>
<line x1="843.0" y1="779.7" x2="929.0" y2="779.7" stroke="rgba(220,225,240,0.08)" stroke-width="1"/>
<rect x="851" y="743" width="14" height="4" rx="1" fill="#73bf69"/>
<rect x="851" y="766" width="14" height="4" rx="1" fill="#fade2a"/>
<text x="874.0" y="748.7" font-size="12" fill="#ccccdc" stroke="#ccccdc" stroke-width="0.15" text-anchor="start" font-weight="normal" >Beneden</text>
<text x="874.0" y="771.8" font-size="12" fill="#ccccdc" stroke="#ccccdc" stroke-width="0.15" text-anchor="start" font-weight="normal" >Boven</text>
<text x="1416.0" y="713.0" font-size="14" fill="#ccccdc" text-anchor="middle" class="t">Flow</text>
<path d="M1868.31,701.27 A6.0,6.0 0 0 0 1871.79,712.00" stroke="#9a9ba5" stroke-width="1.5" fill="none"/>
<path d="M1871.79,700.00 A6.0,6.0 0 0 1 1875.69,710.73" stroke="#9a9ba5" stroke-width="1.5" fill="none"/>
<path d="M1865.00,699.70 L1869.70,699.40 L1869.20,704.00 Z" fill="#9a9ba5"/>
<path d="M1879.00,712.30 L1874.30,712.60 L1874.80,708.00 Z" fill="#9a9ba5"/>
<line x1="1022.9" y1="767.3" x2="1852.0" y2="767.3" stroke="rgba(220,225,240,0.10)" stroke-width="1"/>
<text x="1011.6" y="770.0" font-size="12" fill="#c7c8d2" stroke="#c7c8d2" stroke-width="0.15" text-anchor="end" font-weight="normal" >50 °C</text>
<line x1="1022.9" y1="800.4" x2="1852.0" y2="800.4" stroke="rgba(220,225,240,0.10)" stroke-width="1"/>
<text x="1011.6" y="803.1" font-size="12" fill="#c7c8d2" stroke="#c7c8d2" stroke-width="0.15" text-anchor="end" font-weight="normal" >40 °C</text>
<line x1="1022.9" y1="833.2" x2="1852.0" y2="833.2" stroke="rgba(220,225,240,0.10)" stroke-width="1"/>
<text x="1011.6" y="835.9" font-size="12" fill="#c7c8d2" stroke="#c7c8d2" stroke-width="0.15" text-anchor="end" font-weight="normal" >30 °C</text>
<line x1="1031.5" y1="750.5" x2="1031.5" y2="864.0" stroke="rgba(220,225,240,0.10)" stroke-width="1"/>
<text x="1031.5" y="877.7" font-size="12" fill="#c7c8d2" stroke="#c7c8d2" stroke-width="0.15" text-anchor="middle" font-weight="normal" >08:00</text>
<line x1="1100.8" y1="750.5" x2="1100.8" y2="864.0" stroke="rgba(220,225,240,0.10)" stroke-width="1"/>
<text x="1100.8" y="877.7" font-size="12" fill="#c7c8d2" stroke="#c7c8d2" stroke-width="0.15" text-anchor="middle" font-weight="normal" >10:00</text>
<line x1="1170.1" y1="750.5" x2="1170.1" y2="864.0" stroke="rgba(220,225,240,0.10)" stroke-width="1"/>
<text x="1170.1" y="877.7" font-size="12" fill="#c7c8d2" stroke="#c7c8d2" stroke-width="0.15" text-anchor="middle" font-weight="normal" >12:00</text>
<line x1="1239.3" y1="750.5" x2="1239.3" y2="864.0" stroke="rgba(220,225,240,0.10)" stroke-width="1"/>
<text x="1239.3" y="877.7" font-size="12" fill="#c7c8d2" stroke="#c7c8d2" stroke-width="0.15" text-anchor="middle" font-weight="normal" >14:00</text>
<line x1="1308.6" y1="750.5" x2="1308.6" y2="864.0" stroke="rgba(220,225,240,0.10)" stroke-width="1"/>
<text x="1308.6" y="877.7" font-size="12" fill="#c7c8d2" stroke="#c7c8d2" stroke-width="0.15" text-anchor="middle" font-weight="normal" >16:00</text>
<line x1="1377.9" y1="750.5" x2="1377.9" y2="864.0" stroke="rgba(220,225,240,0.10)" stroke-width="1"/>
<text x="1377.9" y="877.7" font-size="12" fill="#c7c8d2" stroke="#c7c8d2" stroke-width="0.15" text-anchor="middle" font-weight="normal" >18:00</text>
<line x1="1447.2" y1="750.5" x2="1447.2" y2="864.0" stroke="rgba(220,225,240,0.10)" stroke-width="1"/>
<text x="1447.2" y="877.7" font-size="12" fill="#c7c8d2" stroke="#c7c8d2" stroke-width="0.15" text-anchor="middle" font-weight="normal" >20:00</text>
<line x1="1516.5" y1="750.5" x2="1516.5" y2="864.0" stroke="rgba(220,225,240,0.10)" stroke-width="1"/>
<text x="1516.5" y="877.7" font-size="12" fill="#c7c8d2" stroke="#c7c8d2" stroke-width="0.15" text-anchor="middle" font-weight="normal" >22:00</text>
<line x1="1585.7" y1="750.5" x2="1585.7" y2="864.0" stroke="rgba(220,225,240,0.10)" stroke-width="1"/>
<text x="1585.7" y="877.7" font-size="12" fill="#c7c8d2" stroke="#c7c8d2" stroke-width="0.15" text-anchor="middle" font-weight="normal" >00:00</text>
<line x1="1655.0" y1="750.5" x2="1655.0" y2="864.0" stroke="rgba(220,225,240,0.10)" stroke-width="1"/>
<text x="1655.0" y="877.7" font-size="12" fill="#c7c8d2" stroke="#c7c8d2" stroke-width="0.15" text-anchor="middle" font-weight="normal" >02:00</text>
<line x1="1724.3" y1="750.5" x2="1724.3" y2="864.0" stroke="rgba(220,225,240,0.10)" stroke-width="1"/>
<text x="1724.3" y="877.7" font-size="12" fill="#c7c8d2" stroke="#c7c8d2" stroke-width="0.15" text-anchor="middle" font-weight="normal" >04:00</text>
<line x1="1793.6" y1="750.5" x2="1793.6" y2="864.0" stroke="rgba(220,225,240,0.10)" stroke-width="1"/>
<text x="1793.6" y="877.7" font-size="12" fill="#c7c8d2" stroke="#c7c8d2" stroke-width="0.15" text-anchor="middle" font-weight="normal" >06:00</text>
<text x="960.0" y="804.7" font-size="12" fill="#c7c8d2" text-anchor="middle" transform="rotate(-90 960.0 804.7)" dy="4">Aanvoertemperatuur</text>
<path d="M1022.9,860.2 L1022.9,762.9 L1025.3,762.3 L1028.2,808.3 L1031.5,844.5 L1034.1,843.5 L1039.0,819.0 L1043.8,808.3 L1054.6,790.3 L1058.5,797.5 L1064.4,811.2 L1079.1,820.0 L1100.6,828.8 L1118.2,832.2 L1141.7,835.7 L1169.5,837.6 L1200.4,839.6 L1259.1,840.8 L1264.0,841.5 L1266.9,850.4 L1270.9,846.4 L1276.7,843.1 L1282.6,823.5 L1285.5,822.0 L1306.3,829.5 L1342.2,836.3 L1371.5,839.2 L1404.1,841.5 L1431.9,842.5 L1454.7,843.3 L1488.9,844.5 L1529.7,845.4 L1550.4,845.4 L1557.4,808.3 L1567.2,788.7 L1577.0,780.5 L1586.5,774.8 L1593.0,772.4 L1595.5,803.4 L1599.6,839.6 L1605.3,814.8 L1612.6,797.7 L1620.0,787.9 L1625.7,782.5 L1628.1,827.8 L1631.9,836.8 L1634.6,827.0 L1637.9,823.8 L1642.8,808.3 L1648.5,796.0 L1655.0,788.7 L1660.4,783.5 L1663.2,841.7 L1666.4,848.7 L1668.9,829.5 L1672.9,821.3 L1675.4,818.0 L1681.1,802.1 L1684.4,802.6 L1694.1,814.0 L1700.7,818.9 L1708.8,829.8 L1718.6,830.8 L1749.6,838.4 L1755.3,838.4 L1761.8,848.2 L1767.5,845.0 L1771.6,822.1 L1775.3,814.5 L1782.2,821.6 L1787.1,820.5 L1793.3,820.5 L1798.5,827.8 L1801.7,840.9 L1807.5,829.5 L1813.2,827.3 L1824.6,825.4 L1839.3,825.4 L1842.5,824.2 L1852.0,824.2 L1852.0,860.2 Z" fill="rgba(169,185,171,0.085)" stroke="none"/>
<path d="M1022.9,762.9 L1025.3,762.3 L1028.2,808.3 L1031.5,844.5 L1034.1,843.5 L1039.0,819.0 L1043.8,808.3 L1054.6,790.3 L1058.5,797.5 L1064.4,811.2 L1079.1,820.0 L1100.6,828.8 L1118.2,832.2 L1141.7,835.7 L1169.5,837.6 L1200.4,839.6 L1259.1,840.8 L1264.0,841.5 L1266.9,850.4 L1270.9,846.4 L1276.7,843.1 L1282.6,823.5 L1285.5,822.0 L1306.3,829.5 L1342.2,836.3 L1371.5,839.2 L1404.1,841.5 L1431.9,842.5 L1454.7,843.3 L1488.9,844.5 L1529.7,845.4 L1550.4,845.4 L1557.4,808.3 L1567.2,788.7 L1577.0,780.5 L1586.5,774.8 L1593.0,772.4 L1595.5,803.4 L1599.6,839.6 L1605.3,814.8 L1612.6,797.7 L1620.0,787.9 L1625.7,782.5 L1628.1,827.8 L1631.9,836.8 L1634.6,827.0 L1637.9,823.8 L1642.8,808.3 L1648.5,796.0 L1655.0,788.7 L1660.4,783.5 L1663.2,841.7 L1666.4,848.7 L1668.9,829.5 L1672.9,821.3 L1675.4,818.0 L1681.1,802.1 L1684.4,802.6 L1694.1,814.0 L1700.7,818.9 L1708.8,829.8 L1718.6,830.8 L1749.6,838.4 L1755.3,838.4 L1761.8,848.2 L1767.5,845.0 L1771.6,822.1 L1775.3,814.5 L1782.2,821.6 L1787.1,820.5 L1793.3,820.5 L1798.5,827.8 L1801.7,840.9 L1807.5,829.5 L1813.2,827.3 L1824.6,825.4 L1839.3,825.4 L1842.5,824.2 L1852.0,824.2" stroke="#a9b9ab" stroke-width="1" fill="none" stroke-linejoin="round" />
<rect x="971" y="892" width="14" height="4" rx="1" fill="#a9b9ab"/>
<text x="993.4" y="897.9" font-size="12" fill="#ccccdc" stroke="#ccccdc" stroke-width="0.15" text-anchor="start" font-weight="normal" >Beneden</text>
</svg>
</body></html>
